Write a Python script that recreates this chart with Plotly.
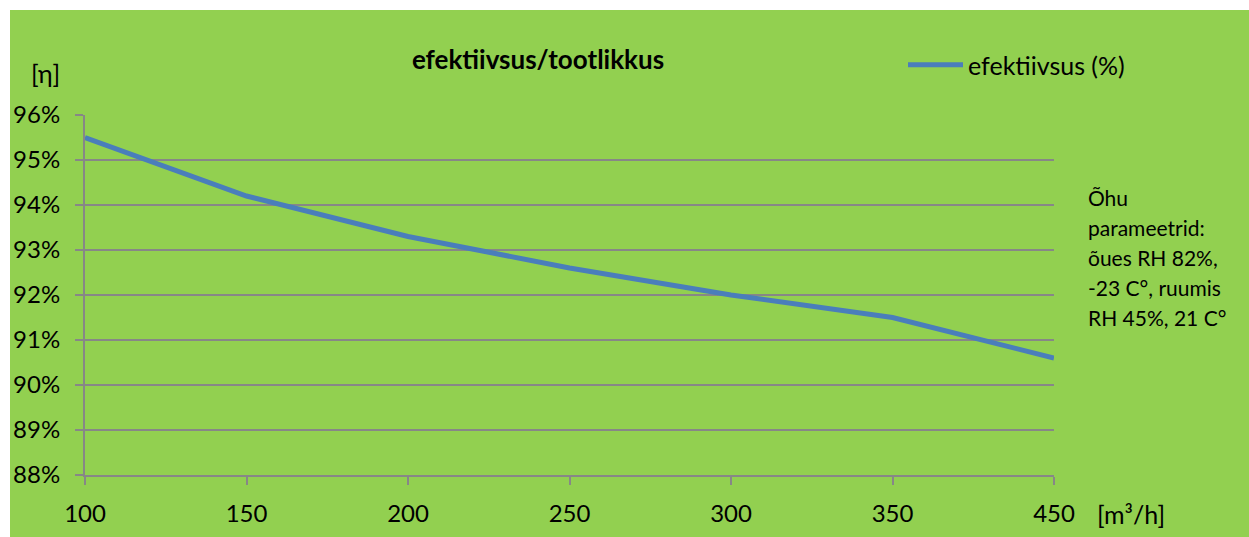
import plotly.graph_objects as go

# airflow categories and efficiency readings
airflow = ["100", "150", "200", "250", "300", "350", "450"]
efficiency = [95.5, 94.2, 93.3, 92.6, 92.0, 91.5, 90.6]
y_ticks = [88, 89, 90, 91, 92, 93, 94, 95, 96]
y_labels = [f"{v}%" for v in y_ticks]
note_lines = ["Õhu", "parameetrid:", "õues RH 82%,", "-23 C°, ruumis", "RH 45%, 21 C°"]

GREEN = "#92D050"
BLUE = "#4A7EBB"
GRID = "#878787"
FONT = "Lato"

W, H = 1249, 537
L, T, R, B = 85, 115, 195, 62
PW, PH = W - L - R, H - T - B


def px_x(x):
    return (x - L) / PW


def px_y(y):
    return (H - B - y) / PH


fig = go.Figure()
fig.add_trace(go.Scatter(x=airflow, y=efficiency, mode="lines",
                         name="efektiivsus (%)",
                         line=dict(color=BLUE, width=5)))

annotations = [
    dict(text="[η]", xref="paper", yref="paper", x=px_x(45), y=px_y(73),
         xanchor="center", yanchor="middle", showarrow=False, font=dict(size=25)),
    dict(text="[m³/h]", xref="paper", yref="paper", x=px_x(1095), y=px_y(514),
         xanchor="left", yanchor="middle", showarrow=False, font=dict(size=25)),
]
for i, line in enumerate(note_lines):
    annotations.append(dict(text=line, xref="paper", yref="paper",
                            x=px_x(1086), y=px_y(197 + 30 * i),
                            xanchor="left", yanchor="middle", showarrow=False,
                            font=dict(size=21)))

fig.update_layout(
    width=W, height=H,
    margin=dict(l=L, r=R, t=T, b=B),
    paper_bgcolor="white",
    plot_bgcolor=GREEN,
    font=dict(family=FONT, size=24, color="black"),
    title=dict(text="<b>efektiivsus/tootlikkus</b>", x=538 / W, xanchor="center",
               y=1 - 60 / H, yanchor="middle", font=dict(size=26)),
    showlegend=True,
    legend=dict(x=px_x(903), y=px_y(65), xanchor="left", yanchor="middle",
                bgcolor="rgba(0,0,0,0)", font=dict(size=25), itemwidth=55),
    xaxis=dict(type="category", range=[0, 6], showgrid=False, automargin=False,
               showline=True, linecolor=GRID, linewidth=2,
               ticks="outside", ticklen=8, tickcolor=GRID, tickwidth=2,
               ticklabelstandoff=8),
    yaxis=dict(range=[88, 96], tickvals=y_ticks, ticktext=y_labels, automargin=False,
               showgrid=True, gridcolor=GRID, gridwidth=2,
               showline=True, linecolor=GRID, linewidth=2,
               ticks="outside", ticklen=8, tickcolor=GRID, tickwidth=2,
               ticklabelstandoff=10, zeroline=False),
    shapes=[dict(type="rect", xref="paper", yref="paper",
                 x0=px_x(10), x1=px_x(W + 20),
                 y0=px_y(H + 20), y1=px_y(10),
                 fillcolor=GREEN, line=dict(width=0), layer="below")],
    annotations=annotations,
)

# drop the default body margin so the figure sits at the window origin
fig.write_html("out.html", config={"displayModeBar": False},
               post_script="document.body.style.margin='0';")
